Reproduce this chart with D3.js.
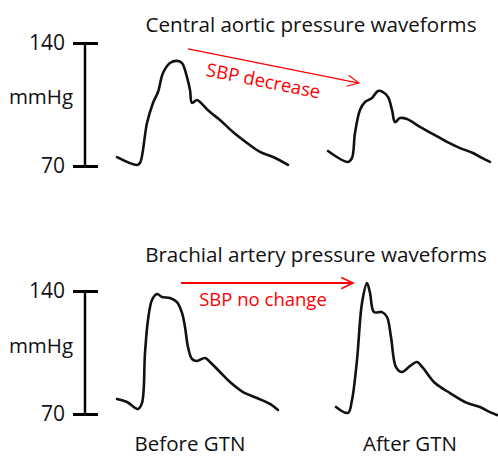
<!DOCTYPE html>
<html>
<head>
<meta charset="utf-8">
<script src="https://cdn.jsdelivr.net/npm/d3@7"></script>
<style>
  body { margin: 0; background: #fff; }
  text { font-family: "Open Sans", "Noto Sans", sans-serif; }
</style>
</head>
<body>
<div id="chart"></div>
<script>
(function() {
    'use strict';

    // time in seconds from start of record, pressure in mmHg
    var aorticBeforeT = [0, 0.10, 0.115, 0.15, 0.18, 0.205, 0.23, 0.265, 0.30, 0.325, 0.35, 0.365, 0.375, 0.40, 0.415, 0.465, 0.515, 0.58, 0.65, 0.715, 0.78, 0.855];
    var aorticBeforeP = [75.1, 70.6, 71.7, 94.5, 105.9, 112.1, 122.9, 128.6, 129.8, 128.6, 120.6, 113.2, 105.9, 107.6, 106.4, 100.7, 96.2, 89.3, 83.1, 78.0, 75.1, 70.6];

    var aorticAfterT = [0, 0.10, 0.12, 0.135, 0.16, 0.185, 0.22, 0.25, 0.275, 0.30, 0.32, 0.335, 0.36, 0.395, 0.46, 0.525, 0.595, 0.66, 0.725, 0.77, 0.81];
    var aorticAfterP = [78.5, 72.3, 74.6, 88.8, 101.9, 106.4, 108.7, 112.7, 112.1, 109.3, 101.9, 95.0, 97.3, 96.7, 92.2, 88.2, 83.7, 80.2, 77.4, 74.6, 72.3];

    var brachialBeforeT = [0, 0.05, 0.105, 0.125, 0.14, 0.155, 0.175, 0.20, 0.225, 0.265, 0.30, 0.325, 0.34, 0.355, 0.375, 0.40, 0.44, 0.465, 0.515, 0.565, 0.63, 0.70, 0.765, 0.805];
    var brachialBeforeP = [78.5, 76.8, 72.8, 76.3, 104.7, 123.5, 134.9, 138.3, 136.6, 136.0, 133.7, 127.5, 119.5, 108.1, 101.3, 100.2, 101.9, 99.6, 93.9, 88.2, 82.5, 79.1, 75.7, 72.3];

    var brachialAfterT = [0, 0.06, 0.08, 0.105, 0.13, 0.155, 0.17, 0.19, 0.23, 0.255, 0.275, 0.30, 0.33, 0.37, 0.405, 0.435, 0.495, 0.57, 0.655, 0.72, 0.77, 0.805];
    var brachialAfterP = [74.0, 70.6, 78.0, 100.7, 133.2, 144.5, 138.9, 128.0, 128.0, 125.2, 113.8, 96.7, 93.9, 97.3, 99.6, 96.2, 87.6, 81.9, 76.3, 74.0, 71.1, 69.4];

    // start of each beat on the record (s)
    var beatStart = { aorticBefore: 0, aorticAfter: 1.055, brachialBefore: 0, brachialAfter: 1.095 };

    var yTicks = [70, 140];
    var conditions = ['Before GTN', 'After GTN'];
    var conditionT = [0.365, 1.465];

    var width = 498, height = 456;

    var svg = d3.select('#chart').append('svg')
        .attr('width', width)
        .attr('height', height);

    var x = d3.scaleLinear().domain([0, 1.9]).range([117, 497]);

    var line = function(y) {
        return d3.line()
            .x(function(d) { return x(d[0]); })
            .y(function(d) { return y(d[1]); })
            .curve(d3.curveCatmullRom.alpha(0.5));
    };

    var zip = function(ts, ps, off) {
        return ts.map(function(t, i) { return [t + off, ps[i]]; });
    };

    function panel(opts) {
        var y = d3.scaleLinear().domain([70, 140]).range([opts.bottom, opts.top]);
        var g = svg.append('g');

        g.append('text')
            .attr('x', opts.titleX)
            .attr('y', opts.titleY)
            .attr('text-anchor', 'middle')
            .attr('font-size', '20.6px')
            .attr('fill', '#111')
            .text(opts.title);

        // scale bar
        g.append('line')
            .attr('x1', 85).attr('x2', 85)
            .attr('y1', y(70)).attr('y2', y(140))
            .attr('stroke', '#000')
            .attr('stroke-width', 2.5);

        var axis = d3.axisLeft(y).tickValues(yTicks).tickSize(25).tickPadding(8);
        var ag = g.append('g')
            .attr('transform', 'translate(98,0)')
            .call(axis);
        ag.select('.domain').remove();
        ag.selectAll('.tick line').attr('stroke', '#000').attr('stroke-width', 3);
        ag.selectAll('.tick text')
            .attr('font-size', '21px')
            .attr('font-family', '"Open Sans", sans-serif')
            .attr('fill', '#111');

        g.append('text')
            .attr('x', 41)
            .attr('y', opts.unitY)
            .attr('text-anchor', 'middle')
            .attr('font-size', '20.5px')
            .attr('fill', '#111')
            .text('mmHg');

        opts.beats.forEach(function(b) {
            g.append('path')
                .datum(b)
                .attr('d', line(y))
                .attr('fill', 'none')
                .attr('stroke', '#111')
                .attr('stroke-width', 2.6)
                .attr('stroke-linejoin', 'round')
                .attr('stroke-linecap', 'round');
        });

        // annotation arrow
        var a = opts.arrow;
        var x1 = x(a.t0), y1 = y(a.p0), x2 = x(a.t1), y2 = y(a.p1);
        var ang = Math.atan2(y2 - y1, x2 - x1);
        var head = 13, spread = 0.45;
        g.append('line')
            .attr('x1', x1).attr('y1', y1).attr('x2', x2).attr('y2', y2)
            .attr('stroke', '#ff0000')
            .attr('stroke-width', a.w);
        g.append('path')
            .attr('d', 'M' + (x2 - head * Math.cos(ang - spread)) + ',' + (y2 - head * Math.sin(ang - spread)) +
                'L' + x2 + ',' + y2 +
                'L' + (x2 - head * Math.cos(ang + spread)) + ',' + (y2 - head * Math.sin(ang + spread)))
            .attr('fill', 'none')
            .attr('stroke', '#ff0000')
            .attr('stroke-width', a.w * 0.8);

        var deg = ang * 180 / Math.PI;
        var mx = (x1 + x2) / 2, my = (y1 + y2) / 2;
        g.append('text')
            .attr('transform', 'translate(' + mx + ',' + my + ') rotate(' + deg + ') translate(' + a.dx + ',' + a.dy + ')')
            .attr('text-anchor', 'middle')
            .attr('font-size', '18.5px')
            .attr('fill', '#ff0000')
            .text(a.label);

        return y;
    }

    panel({
        title: 'Central aortic pressure waveforms',
        titleX: 311, titleY: 32,
        top: 43, bottom: 166, unitY: 104,
        beats: [
            zip(aorticBeforeT, aorticBeforeP, beatStart.aorticBefore),
            zip(aorticAfterT, aorticAfterP, beatStart.aorticAfter)
        ],
        arrow: { t0: 0.355, p0: 136.6, t1: 1.21, p1: 117.2, w: 1.3, label: 'SBP decrease', dx: -7, dy: 23 }
    });

    panel({
        title: 'Brachial artery pressure waveforms',
        titleX: 316, titleY: 262,
        top: 291, bottom: 414, unitY: 353,
        beats: [
            zip(brachialBeforeT, brachialBeforeP, beatStart.brachialBefore),
            zip(brachialAfterT, brachialAfterP, beatStart.brachialAfter)
        ],
        arrow: { t0: 0.32, p0: 144.5, t1: 1.18, p1: 144.5, w: 2, label: 'SBP no change', dx: -4, dy: 23 }
    });

    svg.selectAll('.cond')
        .data(conditions)
        .enter()
        .append('text')
        .attr('class', 'cond')
        .attr('x', function(d, i) { return x(conditionT[i]); })
        .attr('y', 451)
        .attr('text-anchor', 'middle')
        .attr('font-size', '20.5px')
        .attr('fill', '#111')
        .text(function(d) { return d; });
})();
</script>
</body>
</html>
